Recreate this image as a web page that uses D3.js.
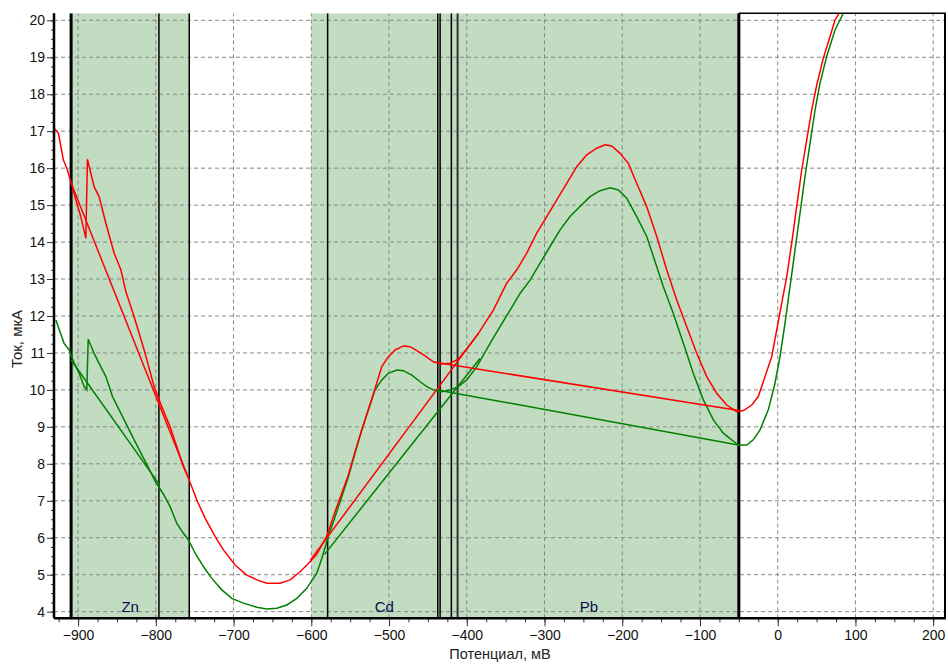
<!DOCTYPE html>
<html>
<head>
<meta charset="UTF-8">
<title>Вольтамперограмма</title>
<script src="https://d3js.org/d3.v7.min.js"></script>
<style>
  body { margin: 0; background: #fff; }
  text { font-family: "Liberation Sans", Arial, sans-serif; }
</style>
</head>
<body>
<div id="chart"></div>
<script>
// measured curves, [potential mV, current uA]
const redCurve = [[-930.8,17.09],[-925.3,16.94],[-918.9,16.22],[-914.5,16.0],[-908.1,15.55],[-902.9,15.14],[-896.5,14.69],[-890.0,14.10],[-888,16.24],[-879.4,15.5],[-873,15.23],[-864.3,14.51],[-853.6,13.70],[-845,13.25],[-838.6,12.66],[-827.9,11.98],[-815,11.08],[-802.2,10.09],[-795.8,9.73],[-787.1,9.28],[-781.6,9.0],[-773,8.46],[-764.5,7.92],[-758,7.61],[-747.3,7.02],[-736.6,6.53],[-723.7,6.03],[-713,5.67],[-698,5.26],[-683,4.99],[-670,4.86],[-657.2,4.77],[-640,4.77],[-627.3,4.86],[-614.4,5.08],[-603.7,5.30],[-593,5.55],[-580,6.05],[-569.4,6.71],[-560.8,7.2],[-552.3,7.7],[-543.7,8.33],[-535,8.92],[-526.6,9.46],[-518,10.04],[-509.3,10.63],[-500.8,10.9],[-492.2,11.08],[-481.5,11.19],[-472.9,11.17],[-464.3,11.06],[-453.6,10.92],[-443,10.76],[-432.2,10.70],[-421.5,10.72],[-410.8,10.83],[-398,11.17],[-385,11.53],[-365.8,12.16],[-348.6,12.89],[-335.7,13.25],[-322.8,13.70],[-310,14.24],[-297.1,14.69],[-284.2,15.14],[-271.4,15.59],[-258.5,16.04],[-245.7,16.36],[-232.8,16.54],[-222.1,16.63],[-213.5,16.60],[-202.8,16.40],[-192.2,16.13],[-181.4,15.59],[-168.5,14.96],[-155.6,14.15],[-142.8,13.25],[-129.9,12.43],[-117,11.71],[-104.2,10.99],[-91.3,10.36],[-78.5,9.91],[-65.6,9.59],[-52.7,9.41],[-44.1,9.44],[-33.4,9.59],[-25,9.82],[-16.3,10.36],[-7.7,10.90],[-1.3,11.62],[5.1,12.34],[11.6,13.06],[18,13.97],[24.4,14.96],[30.9,15.95],[37.3,16.76],[43.7,17.57],[50.2,18.25],[58.6,18.97],[67.3,19.56],[73.7,20.01],[82.3,20.3]];

const greenCurve = [[-928.6,11.89],[-918,11.26],[-911.5,11.08],[-905,10.72],[-898.6,10.45],[-892.2,10.09],[-888.8,10.0],[-887,11.37],[-879.4,10.99],[-873,10.72],[-864.3,10.36],[-855.8,9.82],[-847.2,9.46],[-838.6,9.10],[-827.9,8.65],[-815,8.12],[-800,7.5],[-790,7.17],[-781.6,6.84],[-773,6.39],[-764.5,6.12],[-758,5.94],[-749.4,5.58],[-738.8,5.22],[-728,4.90],[-715.1,4.59],[-702.3,4.36],[-687.3,4.23],[-670.1,4.12],[-657.2,4.07],[-644.4,4.09],[-631.5,4.18],[-618.6,4.36],[-605.8,4.63],[-593,5.04],[-586.5,5.44],[-578,6.05],[-569.4,6.57],[-560.8,7.11],[-552.3,7.65],[-543.7,8.29],[-535,8.92],[-526.6,9.46],[-518,10.0],[-509.3,10.27],[-500.8,10.45],[-490,10.54],[-481.5,10.52],[-470.7,10.40],[-460,10.22],[-451.4,10.09],[-443,10.0],[-432.2,9.95],[-421.5,10.0],[-410.8,10.09],[-400,10.27],[-387.1,10.63],[-370,11.26],[-357.2,11.71],[-344.3,12.16],[-331.5,12.61],[-318.6,12.97],[-305.7,13.43],[-292.9,13.88],[-280,14.33],[-267.2,14.69],[-254.3,14.96],[-241.4,15.23],[-228.6,15.39],[-215.7,15.47],[-205,15.41],[-194.2,15.19],[-181.4,14.69],[-168.5,14.15],[-160,13.61],[-147.1,12.79],[-134.3,12.07],[-121.4,11.26],[-108.6,10.45],[-95.7,9.73],[-82.8,9.19],[-70,8.83],[-59.2,8.65],[-50.7,8.51],[-39.9,8.51],[-31.4,8.65],[-22.8,8.92],[-12.1,9.46],[-3.5,10.18],[2.96,10.90],[9.4,11.80],[15.8,12.79],[22.3,13.79],[28.7,14.78],[35.1,15.77],[41.6,16.67],[48,17.57],[54.4,18.30],[63,19.02],[73.7,19.74],[84.4,20.19],[88,20.4]];

// peak baselines
const redBaselines = [
  [[-908.1,15.55],[-758,7.61]],
  [[-601,5.40],[-385,11.53]],
  [[-438.6,10.74],[-50,9.44]]
];
const greenBaselines = [
  [[-909,10.81],[-795.8,7.45]],
  [[-583,5.55],[-383,10.85]],
  [[-438,10.0],[-50.7,8.51]]
];

// shaded peak windows and element labels
const windows = [[-909,-757],[-600,-50]];
const elements = ["Zn","Cd","Pb"];
const elementPos = [-833,-506,-243];
const markers = [-909,-796,-757,-579,-437.3,-434.3,-419.8,-411.8,-50];

const xTicks = [-900,-800,-700,-600,-500,-400,-300,-200,-100,0,100,200];
const yTicks = d3.range(4,21);

const width = 948, height = 664;
const margin = {top: 13.3, right: 2, bottom: 45.7, left: 54};

const x = d3.scaleLinear().domain([-931, 216.5]).range([margin.left, width - margin.right]);
const y = d3.scaleLinear().domain([3.82, 20.19]).range([height - margin.bottom, margin.top]);

const svg = d3.select("#chart").append("svg")
    .attr("width", width).attr("height", height);

svg.append("clipPath").attr("id","clip")
  .append("rect")
    .attr("x", x.range()[0]).attr("y", y.range()[1])
    .attr("width", x.range()[1]-x.range()[0]).attr("height", y.range()[0]-y.range()[1]);

const plot = svg.append("g").attr("clip-path","url(#clip)");

// shaded windows
plot.selectAll(".win").data(windows).join("rect")
    .attr("x", d => x(d[0])).attr("width", d => x(d[1]) - x(d[0]))
    .attr("y", y.range()[1]).attr("height", y.range()[0]-y.range()[1])
    .attr("fill", "#c1dcc1");

// grid
plot.selectAll(".gx").data(xTicks).join("line")
    .attr("x1", d => x(d)).attr("x2", d => x(d))
    .attr("y1", y.range()[0]).attr("y2", y.range()[1])
    .attr("stroke", "#888").attr("stroke-dasharray", "4,3");
plot.selectAll(".gy").data(yTicks).join("line")
    .attr("y1", d => y(d)).attr("y2", d => y(d))
    .attr("x1", x.range()[0]).attr("x2", x.range()[1])
    .attr("stroke", "#888").attr("stroke-dasharray", "4,3");

// window marker lines
plot.selectAll(".mk").data(markers).join("line")
    .attr("x1", d => x(d)).attr("x2", d => x(d))
    .attr("y1", y.range()[0]).attr("y2", y.range()[1])
    .attr("stroke", (d,i) => i === 7 ? "#333" : "#000")
    .attr("stroke-width", (d,i) => (i === 0 || i === markers.length-1) ? 3 : (i === 7 ? 2 : 1.5));

const line = d3.line().x(d => x(d[0])).y(d => y(d[1]));

plot.append("path").attr("d", line(greenCurve))
    .attr("fill","none").attr("stroke","#008000").attr("stroke-width",1.5);
plot.append("path").attr("d", line(redCurve))
    .attr("fill","none").attr("stroke","#ff0000").attr("stroke-width",1.5);
greenBaselines.forEach(b => plot.append("path").attr("d", line(b))
    .attr("fill","none").attr("stroke","#008000").attr("stroke-width",1.5));
redBaselines.forEach(b => plot.append("path").attr("d", line(b))
    .attr("fill","none").attr("stroke","#ff0000").attr("stroke-width",1.5));

// element labels
svg.selectAll(".el").data(elements).join("text")
    .attr("x", (d,i) => x(elementPos[i])).attr("y", y.range()[0] - 6)
    .attr("text-anchor","middle").attr("font-size", 15).attr("fill", "#0a0a50")
    .text(d => d);

// axes
const xAxis = d3.axisBottom(x).tickValues(xTicks).tickSize(8).tickPadding(4);
const xMinor = d3.axisBottom(x).tickValues(d3.range(-925, 216, 25)).tickSize(4).tickFormat("");
const yAxis = d3.axisLeft(y).tickValues(yTicks).tickSize(7).tickPadding(2);
const yMinor = d3.axisLeft(y).tickValues(d3.range(3.75, 20.2, 0.25).filter(v => v >= 3.82)).tickSize(3).tickFormat("");

const gx = svg.append("g").attr("transform", `translate(0,${y.range()[0]})`);
gx.append("g").call(xMinor);
gx.append("g").call(xAxis);
const gy = svg.append("g").attr("transform", `translate(${x.range()[0]},0)`);
gy.append("g").call(yMinor);
gy.append("g").call(yAxis);

svg.selectAll(".domain").remove();
svg.selectAll(".tick line").attr("stroke", "#333");
gx.selectAll("text").attr("font-size", 14).attr("fill", "#111").attr("font-family", "Liberation Sans, Arial, sans-serif");
gy.selectAll("text").attr("font-size", 14).attr("fill", "#111").attr("font-family", "Liberation Sans, Arial, sans-serif");

// frame
svg.append("line").attr("x1", x.range()[0]).attr("x2", x.range()[1])
    .attr("y1", y.range()[0]).attr("y2", y.range()[0])
    .attr("stroke","#000").attr("stroke-width",2.5);
svg.append("line").attr("x1", x.range()[0]).attr("x2", x.range()[0])
    .attr("y1", y.range()[1]).attr("y2", y.range()[0])
    .attr("stroke","#000").attr("stroke-width",2.5);
svg.append("line").attr("x1", x.range()[1]-1).attr("x2", x.range()[1]-1)
    .attr("y1", y.range()[1]).attr("y2", y.range()[0])
    .attr("stroke","#000").attr("stroke-width",2);
svg.append("line").attr("x1", x(-50)).attr("x2", x.range()[1])
    .attr("y1", y.range()[1]).attr("y2", y.range()[1])
    .attr("stroke","#000").attr("stroke-width",1.5);

// axis titles
svg.append("text").attr("x", (x.range()[0]+x.range()[1])/2).attr("y", 659)
    .attr("text-anchor","middle").attr("font-size",14.5).attr("fill","#222")
    .text("Потенциал, мВ");
svg.append("text").attr("transform", "translate(22,339) rotate(-90)")
    .attr("text-anchor","middle").attr("font-size",15).attr("fill","#222")
    .text("Ток, мкА");
</script>
</body>
</html>
